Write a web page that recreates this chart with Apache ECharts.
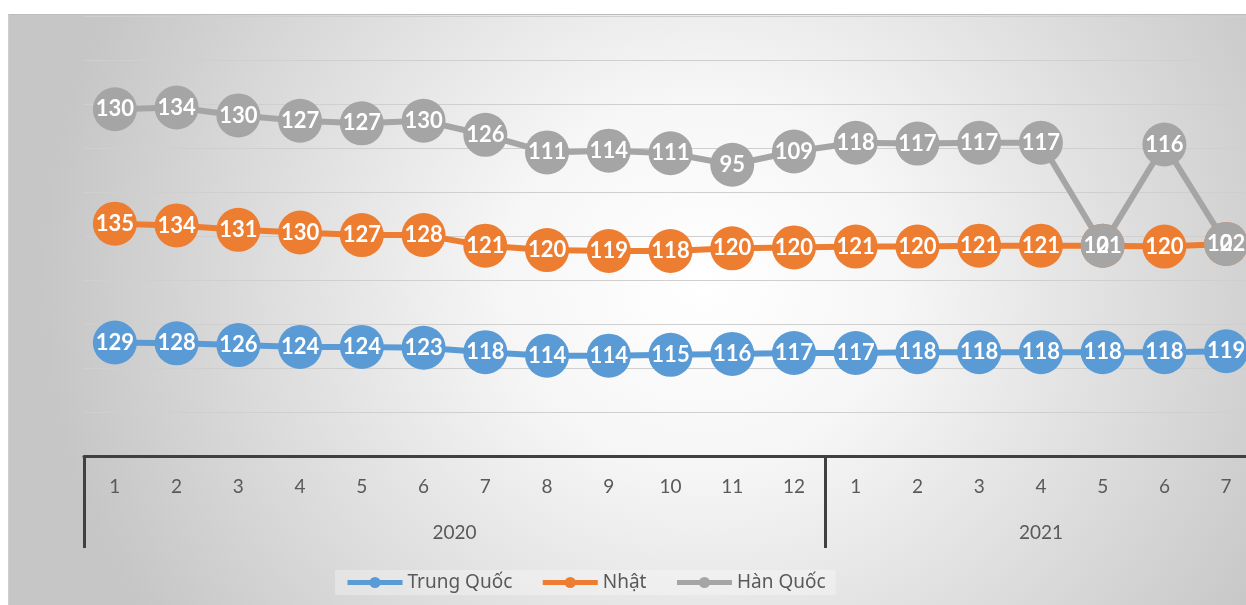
<!DOCTYPE html>
<html>
<head>
<meta charset="utf-8">
<script src="https://cdn.jsdelivr.net/npm/echarts@6/dist/echarts.min.js"></script>
<style>
  html, body { margin: 0; padding: 0; background: #fff; }
  #bg {
    position: absolute; left: 8px; top: 14px; width: 1238px; height: 591px;
    box-sizing: border-box;
    border-top: 1px solid #bdbdbd; border-left: 1px solid #cfcfcf;
    background: radial-gradient(ellipse 660px 620px at 56% 45%, #ffffff 0%, #f6f6f6 30%, #c6c6c6 100%);
  }
  #chart { position: absolute; left: 0; top: 0; width: 1246px; height: 605px; }
</style>
</head>
<body>
<div id="bg"></div>
<div id="chart"></div>
<script>
// month labels, two years
const months = ['1','2','3','4','5','6','7','8','9','10','11','12','1','2','3','4','5','6','7'];
const years = ['2020', '2021'];
const yearMonths = [12, 7];

const seriesNames = ['Trung Quốc', 'Nhật', 'Hàn Quốc'];
const trungQuoc = [129,128,126,124,124,123,118,114,114,115,116,117,117,118,118,118,118,118,119];
const nhat      = [135,134,131,130,127,128,121,120,119,118,120,120,121,120,121,121,121,120,122];
const hanQuoc   = [130,134,130,127,127,130,126,111,114,111,95,109,118,117,117,117,0,116,0];

const colors = ['#5B9BD5', '#ED7D31', '#A5A5A5'];

// year centres and dividers on the index scale
const yearCenters = [];
const dividers = [-0.5];
let start = 0;
yearMonths.forEach(n => {
    yearCenters.push(start + (n - 1) / 2);
    start += n;
    dividers.push(start - 0.5);
});

const chart = echarts.init(document.getElementById('chart'));

const makeSeries = (name, data, i) => ({
    name: name,
    type: 'line',
    stack: 'total',
    data: data,
    symbol: 'circle',
    symbolSize: 44,
    clip: false,
    lineStyle: { color: colors[i], width: 6 },
    itemStyle: { color: colors[i] },
    label: {
        show: true,
        position: 'inside',
        color: '#fff',
        fontWeight: 'bold',
        fontSize: 22,
        fontFamily: 'Lato'
    },
    emphasis: { disabled: true }
});

chart.setOption({
    animation: false,
    grid: { left: 84, width: 1173, top: 16, bottom: 149, outerBoundsMode: 'none' },
    legend: {
        data: seriesNames,
        left: 335,
        top: 570,
        itemWidth: 55,
        itemHeight: 14,
        itemGap: 28,
        padding: [3, 10],
        backgroundColor: 'rgba(255,255,255,0.3)',
        lineStyle: { width: 5 },
        textStyle: { color: '#595959', fontSize: 19, fontFamily: 'Noto Sans' }
    },
    xAxis: [
        {
            type: 'category',
            data: months,
            boundaryGap: true,
            axisLine: { show: false },
            axisTick: { show: false },
            axisLabel: { color: '#595959', fontSize: 19, fontFamily: 'Lato', margin: 21 }
        },
        {
            type: 'value',
            min: -0.5,
            max: months.length - 0.5,
            position: 'bottom',
            splitLine: { show: false },
            axisLine: { show: true, lineStyle: { color: '#404040', width: 3 } },
            axisTick: {
                show: true,
                customValues: dividers,
                length: 92,
                lineStyle: { color: '#404040', width: 3 }
            },
            axisLabel: {
                customValues: yearCenters,
                formatter: v => years[yearCenters.indexOf(v)] || '',
                color: '#595959',
                fontSize: 19,
                fontFamily: 'Lato',
                margin: 67
            }
        }
    ],
    yAxis: {
        type: 'value',
        min: 0,
        max: 500,
        interval: 50,
        axisLabel: { show: false },
        axisLine: { show: false },
        axisTick: { show: false },
        splitLine: { lineStyle: { color: '#cfcfcf', width: 1 } }
    },
    series: [
        makeSeries(seriesNames[0], trungQuoc, 0),
        makeSeries(seriesNames[1], nhat, 1),
        makeSeries(seriesNames[2], hanQuoc, 2)
    ]
});
</script>
</body>
</html>
